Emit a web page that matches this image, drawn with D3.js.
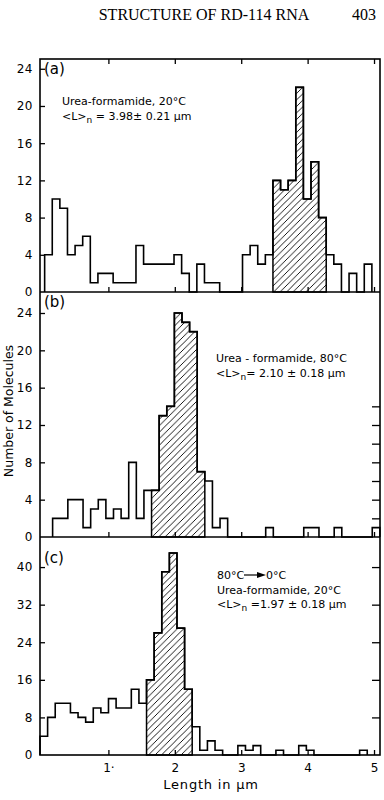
<!DOCTYPE html>
<html>
<head>
<meta charset="utf-8">
<script src="https://cdn.jsdelivr.net/npm/d3@7"></script>
<style>
  body { margin: 0; background: #fff; }
  svg { display: block; }
</style>
</head>
<body>
<div id="chart"></div>
<script>
// histogram counts, one per bin (bin width in um, each panel has its own first bin edge)
var binWidth = 0.1146;

var countsA = [4, 10, 9, 4, 5, 6, 1, 2, 2, 1, 1, 1, 5, 3, 3, 3, 3, 4, 2, 0, 3, 1, 1, 0, 0, 0,
  4, 5, 3, 4, 12, 11, 12, 22, 10, 14, 8, 4, 3, 0, 2, 0, 3];
var startA = 0.04;
var hatchA = [30, 37];   // bin index range that is shaded

var countsB = [2, 2, 4, 4, 1, 3, 4, 2, 3, 2, 8, 2, 5, 5, 13, 14, 24, 23, 22, 7, 6, 1, 2,
  0, 0, 0, 0, 0, 1, 0, 0, 0, 0, 1, 1, 0, 0, 1, 0, 0, 0, 0, 1];
var startB = 0.16;
var hatchB = [13, 20];

var countsC = [4, 8, 11, 11, 9, 8, 7, 10, 9, 12, 10, 10, 14, 11, 16, 26, 39, 43, 27, 14, 6,
  1, 3, 1, 0, 0, 2, 1, 2, 0, 0, 1, 0, 0, 2, 1, 0, 0, 0, 0, 0, 0, 1];
var startC = -0.03;
var hatchC = [14, 20];

var xTicks = [1, 2, 3, 4, 5];
var xTickLabels = ["1·", "2", "3", "4", "5"];
var yTicksA = [0, 4, 8, 12, 16, 20, 24];
var yTicksB = [0, 4, 8, 12, 16, 20, 24];
var yTicksC = [0, 8, 16, 24, 32, 40];
var rightTicksB = [2, 4, 6, 8, 10, 12, 14];
var rightTicksC = [8, 16, 24, 32, 40];

var width = 384;
var height = 800;
var left = 40, right = 380;
var tickFont = "DejaVu Sans, sans-serif";

var svg = d3.select("#chart").append("svg")
  .attr("width", width)
  .attr("height", height);

var defs = svg.append("defs");
var hatch = defs.append("pattern")
  .attr("id", "hatch")
  .attr("patternUnits", "userSpaceOnUse")
  .attr("width", 6.5).attr("height", 6.5);
hatch.append("path")
  .attr("d", "M-1,1 l2,-2 M0,6.5 l6.5,-6.5 M5.5,7.5 l2,-2")
  .attr("stroke", "#000")
  .attr("stroke-width", 0.9);

var x = d3.scaleLinear().domain([-0.03, 5.09]).range([left, right]);

var panels = [
  {name: "(a)", counts: countsA, start: startA, hatch: hatchA, top: 59, base: 292, max: 25.05,
   ticks: yTicksA, rticks: [], topTicks: true},
  {name: "(b)", counts: countsB, start: startB, hatch: hatchB, top: 292, base: 537, max: 26.25,
   ticks: yTicksB, rticks: rightTicksB, topTicks: false},
  {name: "(c)", counts: countsC, start: startC, hatch: hatchC, top: 537, base: 755, max: 46.4,
   ticks: yTicksC, rticks: rightTicksC, topTicks: false}
];

function stepPoints(counts, start, from, to) {
  var pts = [[start + from * binWidth, 0]];
  for (var i = from; i < to; i++) {
    pts.push([start + i * binWidth, counts[i]]);
    pts.push([start + (i + 1) * binWidth, counts[i]]);
  }
  pts.push([start + to * binWidth, 0]);
  return pts;
}

panels.forEach(function(p, k) {
  var y = d3.scaleLinear().domain([0, p.max]).range([p.base, p.top]);
  var g = svg.append("g").attr("class", "panel");
  var line = d3.line().x(function(d) { return x(d[0]); }).y(function(d) { return y(d[1]); });

  // hatched region
  g.append("path")
    .attr("d", line(stepPoints(p.counts, p.start, p.hatch[0], p.hatch[1])) + "Z")
    .attr("fill", "url(#hatch)")
    .attr("stroke", "#000")
    .attr("stroke-width", 1.5);

  // outline of whole histogram
  g.append("path")
    .attr("d", line(stepPoints(p.counts, p.start, 0, p.counts.length)))
    .attr("fill", "none")
    .attr("stroke", "#000")
    .attr("stroke-width", 1.6)
    .attr("stroke-linejoin", "miter");

  // left axis, ticks inward
  var yl = g.append("g").attr("transform", "translate(" + left + ",0)")
    .call(d3.axisLeft(y).tickValues(p.ticks).tickSize(-5).tickPadding(7));
  yl.select(".domain").remove();
  yl.selectAll(".tick line").attr("stroke-width", 1.3);
  yl.selectAll(".tick").filter(function(d) { return d === 0; }).select("line").remove();
  yl.selectAll("text").attr("font-family", tickFont).attr("font-size", 12).attr("letter-spacing", 0.5);

  if (p.rticks.length) {
    var yr = g.append("g").attr("transform", "translate(" + right + ",0)")
      .call(d3.axisRight(y).tickValues(p.rticks).tickSize(-8).tickFormat(""));
    yr.select(".domain").remove();
    yr.selectAll(".tick line").attr("stroke-width", 1.3);
  }

  var xb = g.append("g").attr("transform", "translate(0," + p.base + ")")
    .call(d3.axisBottom(x).tickValues(xTicks).tickSize(-5).tickPadding(8)
      .tickFormat(function(d, i) { return k === 2 ? xTickLabels[i] : ""; }));
  xb.select(".domain").remove();
  xb.selectAll(".tick line").attr("stroke-width", 1.3);
  xb.selectAll("text").attr("font-family", tickFont).attr("font-size", 12);

  if (p.topTicks) {
    var xt = g.append("g").attr("transform", "translate(0," + p.top + ")")
      .call(d3.axisTop(x).tickValues(xTicks).tickSize(-5).tickFormat(""));
    xt.select(".domain").remove();
    xt.selectAll(".tick line").attr("stroke-width", 1.3);
  }

  g.append("text")
    .attr("x", 44).attr("y", p.top + (k === 2 ? 26 : 15))
    .attr("font-family", tickFont).attr("font-size", 15)
    .text(p.name);
});

// frame
svg.append("rect")
  .attr("x", left).attr("y", 59)
  .attr("width", right - left).attr("height", 755 - 59)
  .attr("fill", "none").attr("stroke", "#000").attr("stroke-width", 1.6);
[292, 537].forEach(function(yy) {
  svg.append("line").attr("x1", left).attr("x2", right).attr("y1", yy).attr("y2", yy)
    .attr("stroke", "#000").attr("stroke-width", 1.6);
});

// annotations
function meanLabel(xx, yy, rest) {
  var t = svg.append("text").attr("x", xx).attr("y", yy)
    .attr("font-family", tickFont).attr("font-size", 11);
  t.append("tspan").text("<L>");
  t.append("tspan").attr("dy", 3).attr("font-size", 9).text("n");
  t.append("tspan").attr("dy", -3).text(rest);
}
function note(xx, yy, s) {
  svg.append("text").attr("x", xx).attr("y", yy)
    .attr("font-family", tickFont).attr("font-size", 11).text(s);
}

note(62, 105, "Urea-formamide, 20°C");
meanLabel(62, 120, " = 3.98± 0.21 µm");

note(216, 362, "Urea - formamide, 80°C");
meanLabel(216, 377, "= 2.10 ± 0.18 µm");

note(217, 579, "80°C");
svg.append("line").attr("x1", 244).attr("x2", 258).attr("y1", 575).attr("y2", 575)
  .attr("stroke", "#000").attr("stroke-width", 1.2);
svg.append("path").attr("d", "M257,572 L266,575 L257,578 Z").attr("fill", "#000");
note(266, 579, "0°C");
note(217, 594, "Urea-formamide, 20°C");
meanLabel(217, 608, " =1.97 ± 0.18 µm");

// axis titles
svg.append("text")
  .attr("transform", "translate(13,411) rotate(-90)")
  .attr("text-anchor", "middle")
  .attr("font-family", tickFont).attr("font-size", 12.5)
  .text("Number of Molecules");

svg.append("text")
  .attr("x", 211).attr("y", 789)
  .attr("text-anchor", "middle")
  .attr("font-family", tickFont).attr("font-size", 13).attr("letter-spacing", 0.8)
  .text("Length in µm");

// running head
svg.append("text")
  .attr("x", 204).attr("y", 20)
  .attr("text-anchor", "middle")
  .attr("font-family", "Liberation Serif, serif").attr("font-size", 16)
  .text("STRUCTURE OF RD-114 RNA");
svg.append("text")
  .attr("x", 352).attr("y", 20)
  .attr("font-family", "Liberation Serif, serif").attr("font-size", 16)
  .text("403");
</script>
</body>
</html>
